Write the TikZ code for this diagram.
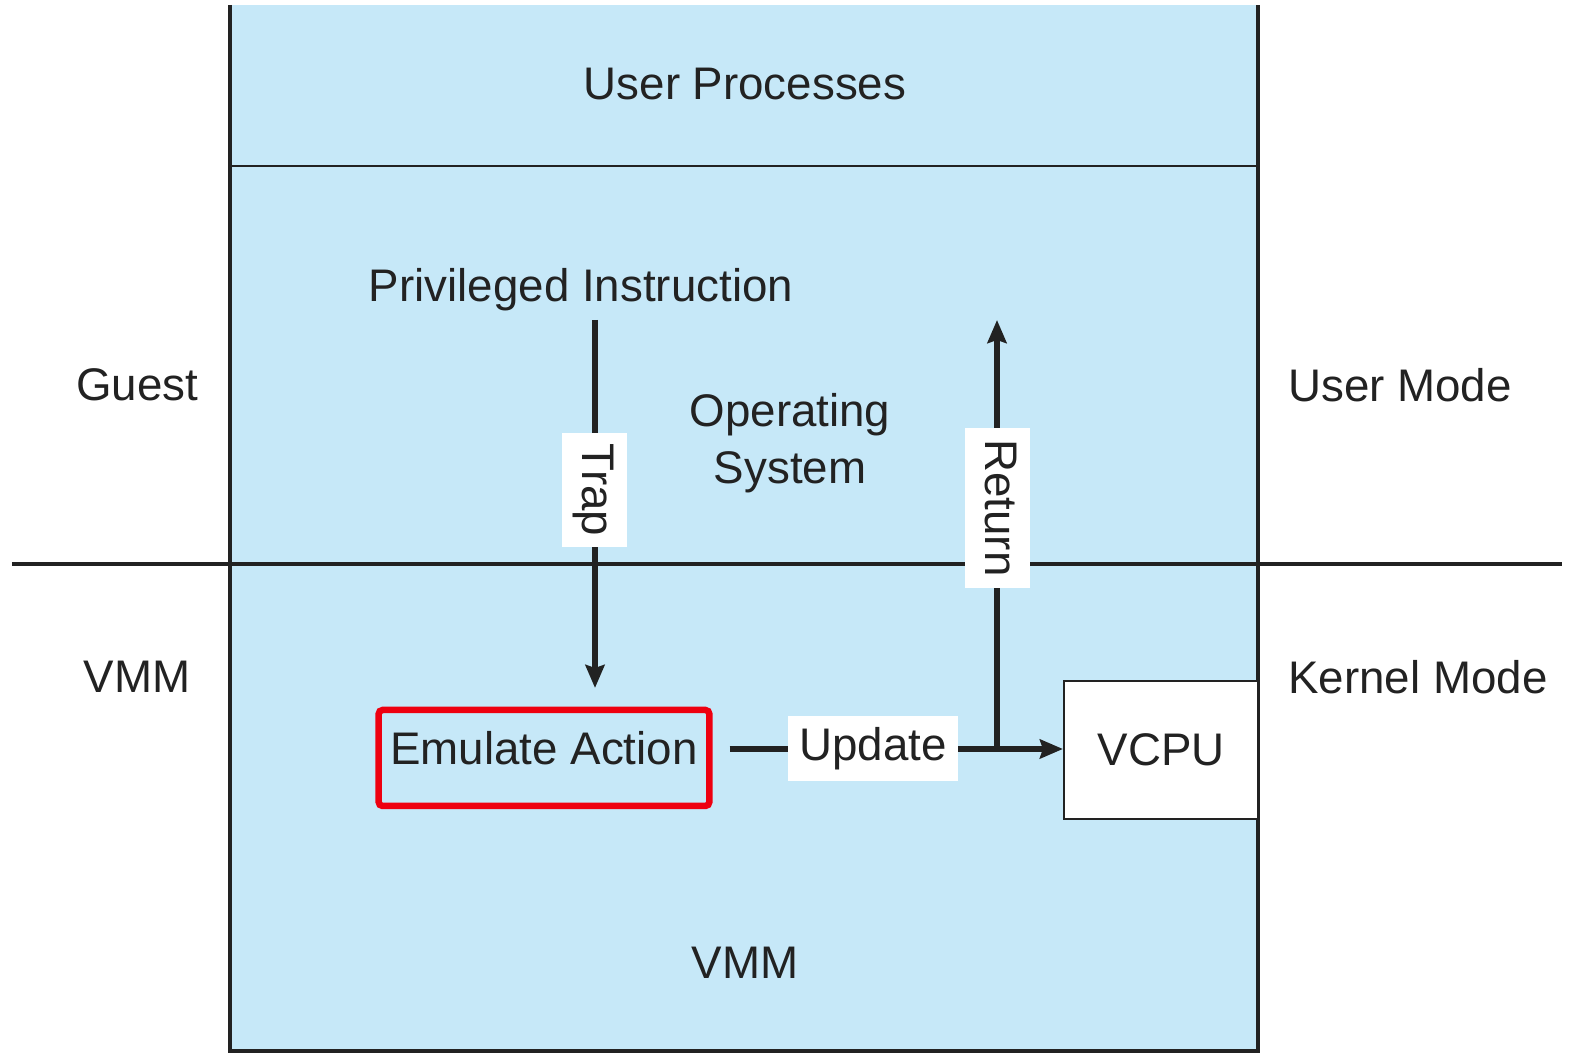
\documentclass[tikz,border=0pt]{standalone}
\usepackage{fontspec}
\setmainfont{Liberation Sans}
\usepackage{xcolor}
\usetikzlibrary{arrows.meta}
\definecolor{vmblue}{HTML}{C6E8F8}
\definecolor{ink}{HTML}{222222}
\definecolor{emred}{HTML}{EE0010}
\tikzset{
  lbl/.style={font=\fontsize{13}{15.5}\selectfont, text=ink},
  tag/.style={lbl, fill=white, inner xsep=0.11cm, inner ysep=0.105cm, text height=0.34cm, text depth=0.1cm},
  flow/.style={draw=ink, line width=1.45pt, -{Stealth[length=0.23cm, width=0.19cm, inset=0.03cm]}}
}
\begin{document}
\begin{tikzpicture}[line join=miter]
    \useasboundingbox (0,0) rectangle (15.70,10.54);
    % machine box
    \fill[vmblue] (2.30,0.03) rectangle (12.58,10.49);
    \draw[ink, line width=0.9pt] (2.30,10.49) -- (2.30,0.03) -- (12.58,0.03) -- (12.58,10.49);
    \draw[ink, line width=0.7pt] (2.30,8.88) -- (12.58,8.88);
    \draw[ink, line width=1.1pt] (0.12,4.90) -- (15.62,4.90);

    \node (user) [lbl] at (7.45,9.70) {User Processes};
    \node (priv) [lbl] at (5.81,7.64) {Privileged Instruction};
    \node (os) [lbl, align=center, text width=3cm] at (7.90,6.11) {Operating\\[0.02cm]System};
    \node (guest) [lbl] at (1.37,6.69) {Guest};
    \node (vmmleft) [lbl] at (1.37,3.77) {VMM};
    \node (usermode) [lbl] at (14.00,6.69) {User Mode};
    \node (kernelmode) [lbl] at (14.18,3.77) {Kernel Mode};
    \node (vmm) [lbl] at (7.45,0.91) {VMM};

    \node (emulate) [lbl, draw=emred, line width=0.065cm, rounded corners=0.04cm, minimum width=3.28cm, minimum height=0.96cm, text height=0.34cm, text depth=0.21cm] at (5.44,2.96) {Emulate Action};
    \node (vcpu) [lbl, draw=ink, line width=0.6pt, fill=white, minimum width=1.94cm, minimum height=1.38cm] at (11.61,3.04) {VCPU};

    \coordinate (trapstart) at (5.95,7.34);
    \coordinate (trapend) at (5.95,3.66);
    \coordinate (branch) at (9.97,3.05);
    \coordinate (retend) at (9.97,7.34);

    \draw[flow] (trapstart) -- (trapend);
    \node (trap) [tag, rotate=-90] at (5.94,5.64) {Trap};
    \draw[flow] (branch) -- (retend);
    \node (return) [tag, rotate=-90] at (9.97,5.46) {Return};
    \draw[flow] ([xshift=0.17cm]emulate.east |- branch) -- (vcpu.west |- branch);
    \node (update) [tag] at (8.73,3.05) {Update};
\end{tikzpicture}
\end{document}
